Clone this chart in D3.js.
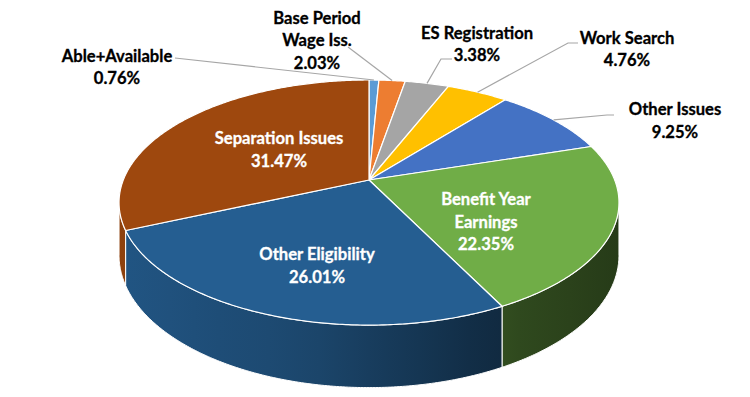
<!DOCTYPE html>
<html>
<head>
<meta charset="utf-8">
<script src="https://cdn.jsdelivr.net/npm/d3@7"></script>
<style>
  html, body { margin: 0; padding: 0; background: #fff; }
  svg { display: block; }
  text { font-family: Lato, "Open Sans", sans-serif; font-weight: bold; }
</style>
</head>
<body>
<svg width="750" height="397"></svg>
<script>
// data
var categories = ["Able+Available", "Base Period Wage Iss.", "ES Registration", "Work Search",
                  "Other Issues", "Benefit Year Earnings", "Other Eligibility", "Separation Issues"];
var values = [0.76, 2.03, 3.38, 4.76, 9.25, 22.35, 26.01, 31.47];
var colors = ["#5B9BD5", "#ED7D31", "#A5A5A5", "#FFC000", "#4472C4", "#70AD47", "#255E91", "#9E480E"];
var labelLines = [["Able+Available"], ["Base Period", "Wage Iss."], ["ES Registration"], ["Work Search"],
                  ["Other Issues"], ["Benefit Year", "Earnings"], ["Other Eligibility"], ["Separation Issues"]];

// label layout (centre x, first baseline, inside?, leader start points)
var labelPos = [
    {x: 117, y: 61.5, inside: false, lead: [[175, 58]]},
    {x: 317, y: 23.5, inside: false, lead: [[348, 47]]},
    {x: 477, y: 38.5, inside: false, lead: [[452, 59], [441, 59]]},
    {x: 627, y: 43.5, inside: false, lead: [[578, 43], [568, 43]]},
    {x: 675, y: 115, inside: false, lead: [[614, 115], [607, 115]]},
    {x: 486, y: 205, inside: true},
    {x: 317, y: 260, inside: true},
    {x: 279, y: 144, inside: true}
];
var lineH = 22.6;

var svg = d3.select("svg");

// 3d pie geometry
var cx = 369, cy = 180, rx = 245.7, ry = 118.4, persp = 0.184, depth = 51;

function proj(a, h) {
    var u = Math.sin(a), v = Math.cos(a), w = 1 + persp * v;
    return [cx + rx * u / w, cy - ry * v / w + h * depth / w];
}

function rim(a0, a1, h) {
    var n = Math.max(2, Math.ceil((a1 - a0) / 0.01));
    return d3.range(n + 1).map(function(i) { return proj(a0 + (a1 - a0) * i / n, h); });
}

var pie = d3.pie().sort(null).value(function(d) { return d; });
var arcs = pie(values);
var line = d3.line();

var defs = svg.append("defs");
var shade = d3.scaleLinear().domain([119, 300, 500, 619]).range([0.9, 0.76, 0.44, 0.34]);

var aR = Math.acos(-persp), aL = 2 * Math.PI - Math.acos(-persp);

// side walls
var sides = svg.append("g").attr("class", "sides");
arcs.forEach(function(d, i) {
    var b0 = Math.max(d.startAngle, aR), b1 = Math.min(d.endAngle, aL);
    if (b1 <= b0) return;
    var base = d3.rgb(colors[i]);
    var g = defs.append("linearGradient")
        .attr("id", "side" + i)
        .attr("gradientUnits", "userSpaceOnUse")
        .attr("x1", 119).attr("x2", 619).attr("y1", 0).attr("y2", 0);
    d3.range(0, 1.0001, 0.1).forEach(function(t) {
        var f = shade(119 + 500 * t);
        g.append("stop").attr("offset", t)
            .attr("stop-color", d3.rgb(base.r * f, base.g * f, base.b * f).formatHex());
    });
    var pts = rim(b0, b1, 0).concat(rim(b0, b1, 1).reverse());
    sides.append("path")
        .attr("d", line(pts) + "Z")
        .attr("fill", "url(#side" + i + ")")
        .attr("stroke", "#fff")
        .attr("stroke-width", 1)
        .attr("stroke-linejoin", "round");
});

// top faces
svg.append("g").attr("class", "tops")
    .selectAll("path")
    .data(arcs)
    .join("path")
    .attr("d", function(d) { return line([[cx, cy]].concat(rim(d.startAngle, d.endAngle, 0))) + "Z"; })
    .attr("fill", function(d, i) { return colors[i]; })
    .attr("stroke", "#fff")
    .attr("stroke-width", 1.2)
    .attr("stroke-linejoin", "round");

// leader lines
svg.append("g").attr("class", "leaders")
    .selectAll("path")
    .data(arcs.filter(function(d, i) { return !labelPos[i].inside; }))
    .join("path")
    .attr("d", function(d) {
        var mid = (d.startAngle + d.endAngle) / 2;
        return line(labelPos[d.index].lead.concat([proj(mid, 0)]));
    })
    .attr("fill", "none")
    .attr("stroke", "#A6A6A6")
    .attr("stroke-width", 1.2);

// labels
var labels = svg.append("g").attr("class", "labels")
    .selectAll("text")
    .data(arcs)
    .join("text")
    .attr("text-anchor", "middle")
    .attr("font-size", 16.6)
    .attr("fill", function(d, i) { return labelPos[i].inside ? "#fff" : "#000"; })
    .attr("stroke", function(d, i) { return labelPos[i].inside ? "#fff" : "#000"; })
    .attr("stroke-width", 0.3);

labels.each(function(d, i) {
    var t = d3.select(this);
    var rows = labelLines[i].concat([values[i].toFixed(2) + "%"]);
    rows.forEach(function(r, k) {
        t.append("tspan")
            .attr("x", labelPos[i].x)
            .attr("y", labelPos[i].y + k * lineH)
            .text(r);
    });
});
</script>
</body>
</html>
